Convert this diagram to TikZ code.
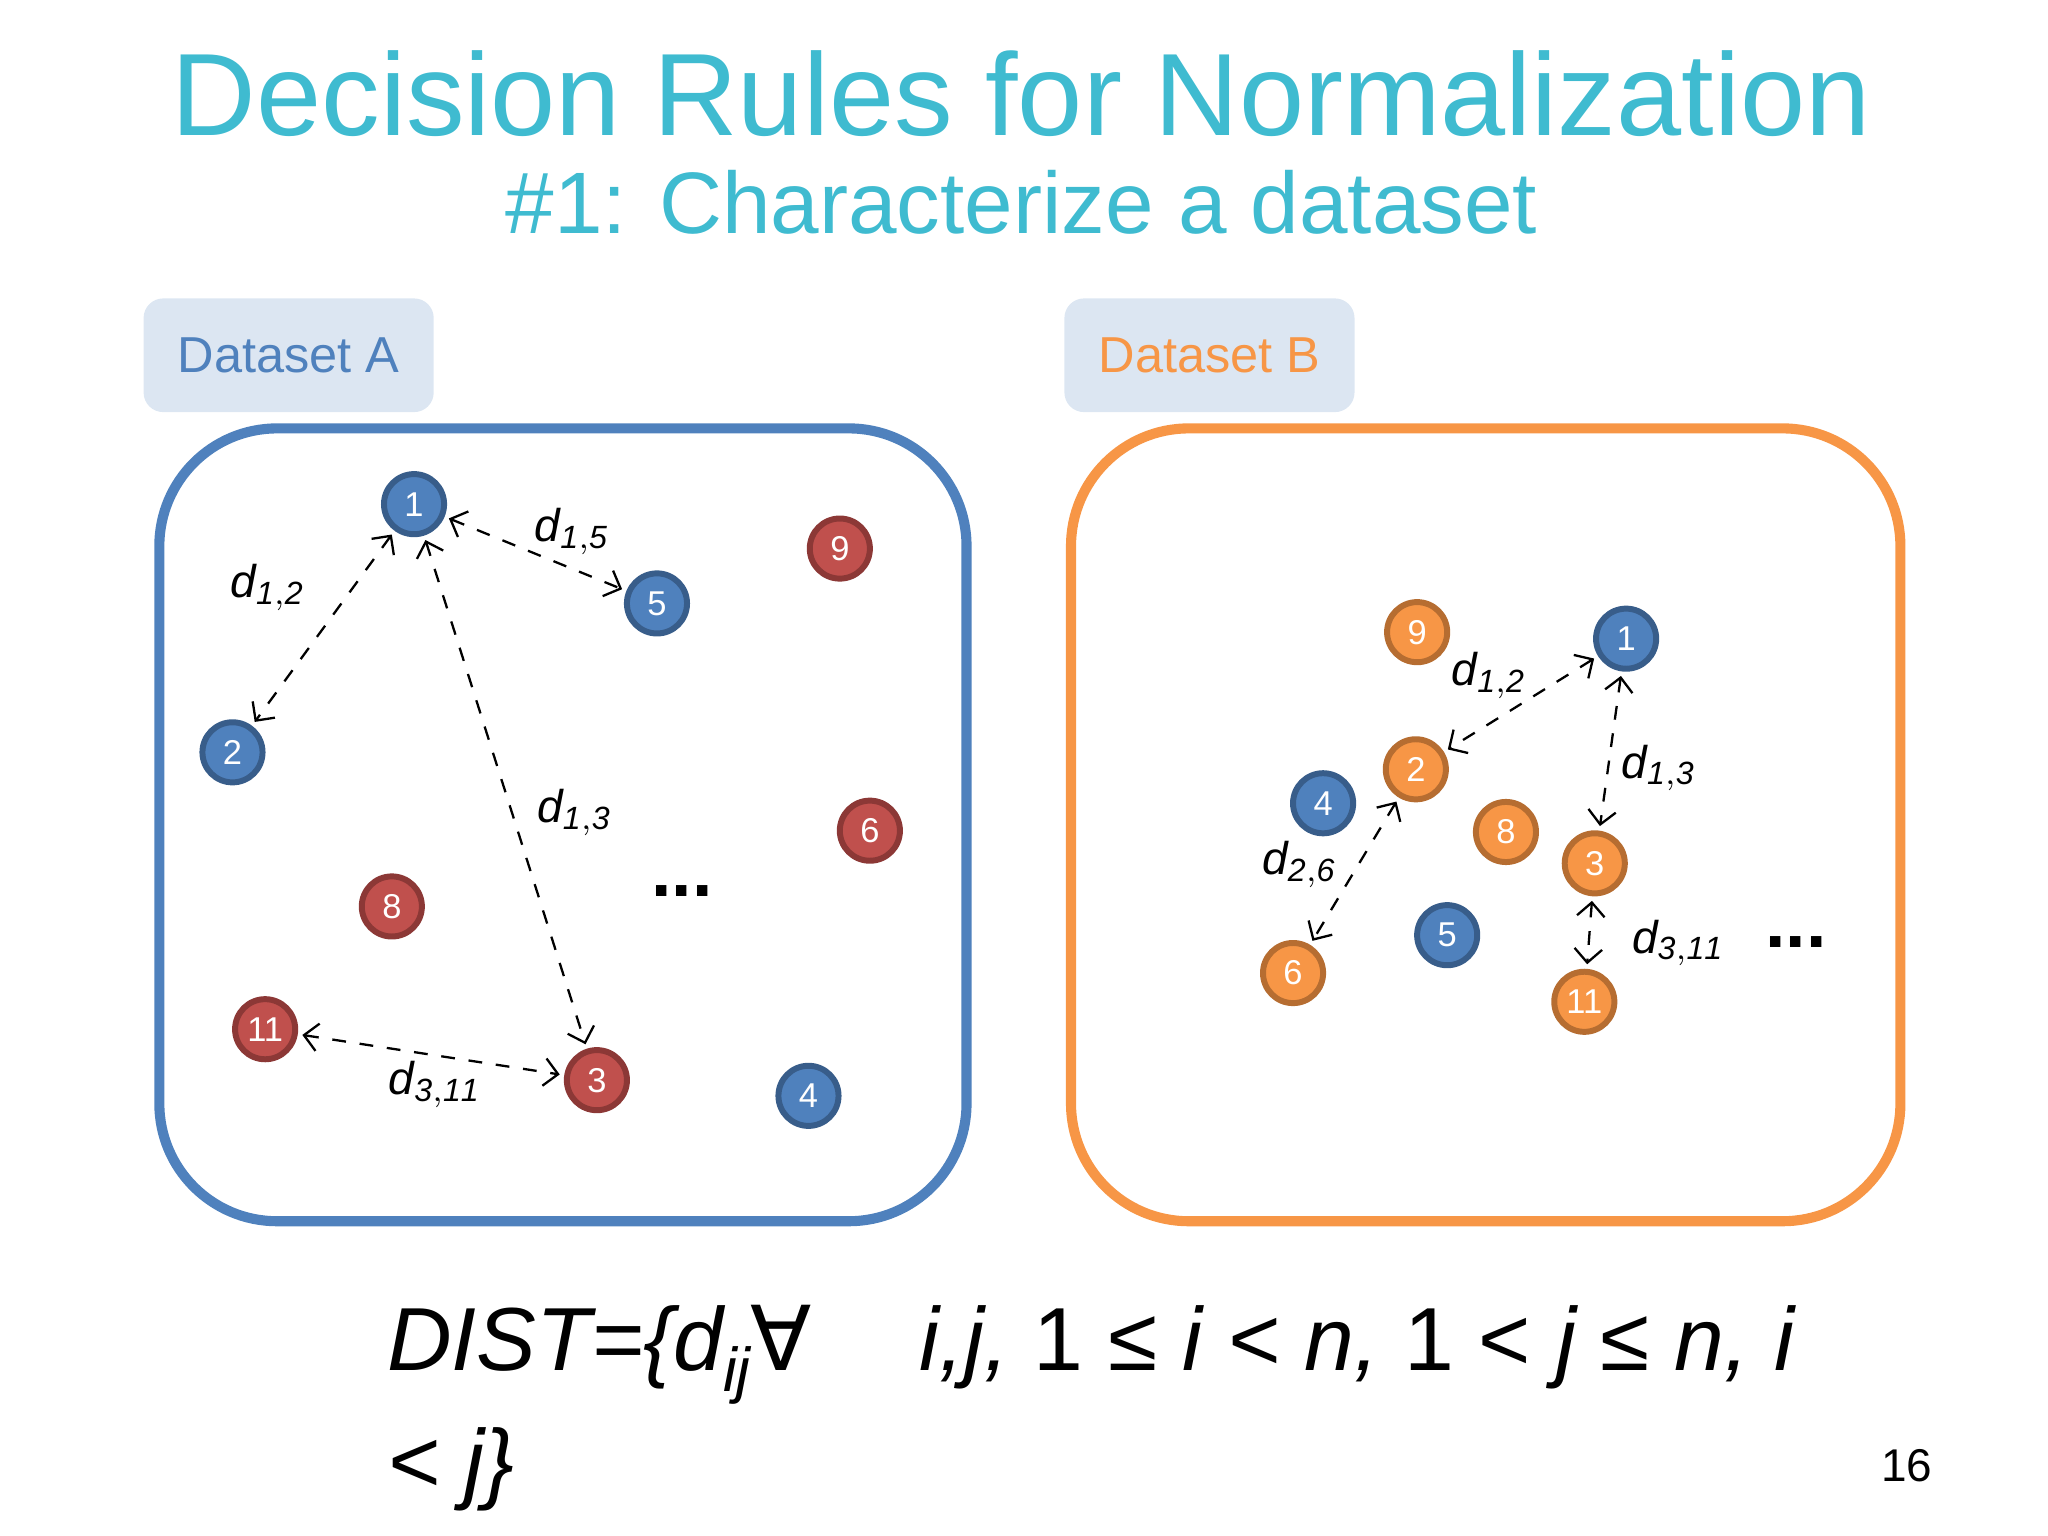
\documentclass[tikz,border=0pt]{standalone}
\usepackage{fontspec}
\setmainfont{Liberation Sans}
\newfontfamily\dv{DejaVu Sans}
\usetikzlibrary{arrows.meta}
\definecolor{ttl}{HTML}{3FBBD0}
\definecolor{bfill}{HTML}{4F81BD}\definecolor{bdraw}{HTML}{385D8A}
\definecolor{rfill}{HTML}{C0504D}\definecolor{rdraw}{HTML}{8C3836}
\definecolor{ofill}{HTML}{F79646}\definecolor{odraw}{HTML}{B66D31}
\definecolor{lab}{HTML}{DCE6F2}
\begin{document}
\begin{tikzpicture}[x=0.01cm,y=-0.01cm,
 pt/.style={circle,minimum size=0.46cm,inner sep=0pt,line width=1.3pt,text=white,font=\fontsize{7.5}{8}\selectfont},
 bn/.style={pt,fill=bfill,draw=bdraw},
 rn/.style={pt,fill=rfill,draw=rdraw},
 on/.style={pt,fill=ofill,draw=odraw},
 dist/.style={dashed,line width=0.5pt,{Straight Barb[length=3pt]}-{Straight Barb[length=3pt]},shorten <=1pt,shorten >=1pt},
 dl/.style={font=\fontsize{10}{11}\selectfont\itshape},
 dots/.style={font=\fontsize{16}{16}\selectfont\bfseries},
 dlab/.style={fill=lab,rounded corners=0.15cm,minimum width=2.22cm,minimum height=0.87cm,font=\fontsize{11}{12}\selectfont}]
\useasboundingbox (0,0) rectangle (1568,1176);
\node[text=ttl,font=\fontsize{25.5}{28}\selectfont] (t1) at (782,72) {Decision Rules for Normalization};
\node[text=ttl,font=\fontsize{19}{22}\selectfont] (t2) at (782,155) {\#1: Characterize a dataset};
\node[dlab,text=bfill] (la) at (221,272) {Dataset A};
\node[dlab,text=ofill] (lb) at (926,272) {Dataset B};
\draw[bfill,line width=2.2pt,rounded corners=0.9cm] (122,328) rectangle (740,935);
\draw[ofill,line width=2.2pt,rounded corners=0.9cm] (820,328) rectangle (1455,935);
% A
\node[bn] (a1) at (317,386) {1};
\node[bn] (a5) at (503,462) {5};
\node[rn] (a9) at (643,420) {9};
\node[bn] (a2) at (178,576) {2};
\node[rn] (a6) at (666,636) {6};
\node[rn] (a8) at (300,694) {8};
\node[rn] (a11) at (203,788) {11};
\node[rn] (a3) at (457,827) {3};
\node[bn] (a4) at (619,839) {4};
\node[dots] (ad) at (522,682) {...};
\draw[dist] (a1)--(a2); \draw[dist] (a1)--(a5); \draw[dist] (a1)--(a3); \draw[dist] (a11)--(a3);
\node[dl] (l1) at (205,450) {d$_{\mathit{1,2}}$};
\node[dl] (l2) at (438,407) {d$_{\mathit{1,5}}$};
\node[dl] (l3) at (440,622) {d$_{\mathit{1,3}}$};
\node[dl] (l4) at (333,830) {d$_{\mathit{3,11}}$};
% B
\node[on] (b9) at (1085,484) {9};
\node[bn] (b1) at (1245,489) {1};
\node[on] (b2) at (1084,589) {2};
\node[bn] (b4) at (1013,615) {4};
\node[on] (b8) at (1153,637) {8};
\node[on] (b3) at (1221,661) {3};
\node[bn] (b5) at (1108,716) {5};
\node[on] (b6) at (990,745) {6};
\node[on] (b11) at (1213,767) {11};
\node[dots] (bd) at (1375,721) {...};
\draw[dist] (b1)--(b2); \draw[dist] (b1)--(b3); \draw[dist] (b2)--(b6); \draw[dist] (b3)--(b11);
\node[dl] (m1) at (1140,517) {d$_{\mathit{1,2}}$};
\node[dl] (m2) at (1270,588) {d$_{\mathit{1,3}}$};
\node[dl] (m3) at (995,662) {d$_{\mathit{2,6}}$};
\node[dl] (m4) at (1285,722) {d$_{\mathit{3,11}}$};
% formula
\node[anchor=west,font=\fontsize{19.5}{22}\selectfont] (f1) at (284,1037) {\itshape DIST=\{d\raisebox{-0.45ex}{\fontsize{13.5}{14}\selectfont ij}{\upshape\dv ∀}\hspace{1.2em}i,j, \upshape 1 ≤ \itshape i < n, \upshape 1 < \itshape j ≤ n, i};
\node[anchor=west,font=\fontsize{19.5}{22}\selectfont] (f2) at (284,1125) {\itshape < j\}};
\node[font=\fontsize{10}{12}\selectfont] (pg) at (1460,1122) {16};
\end{tikzpicture}
\end{document}
